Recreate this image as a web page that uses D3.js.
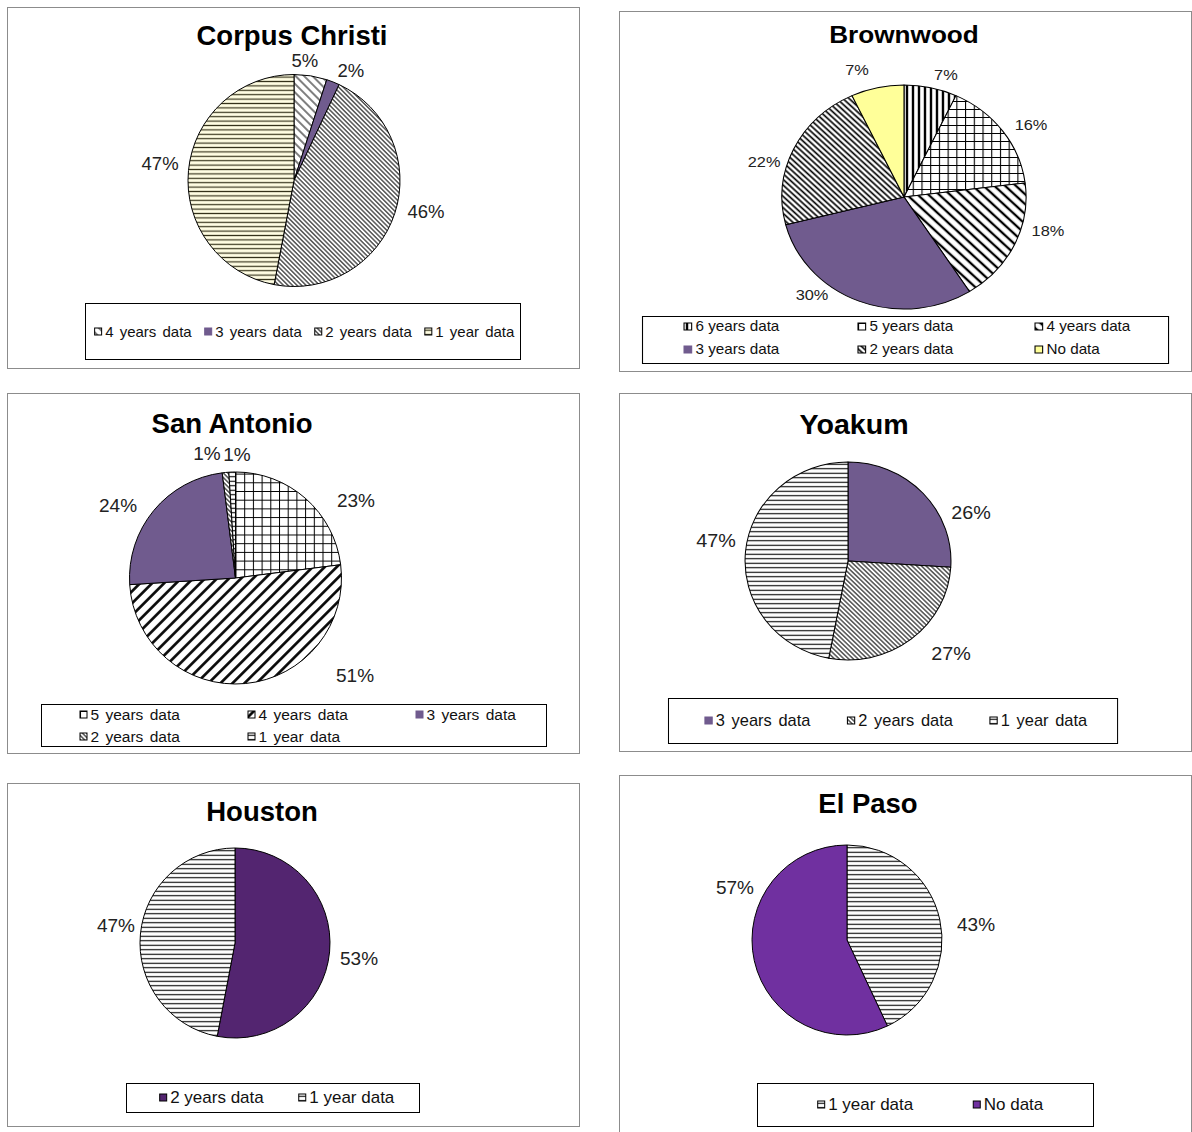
<!DOCTYPE html>
<html>
<head>
<meta charset="utf-8">
<script src="https://cdn.jsdelivr.net/npm/d3@7"></script>
<style>
  body { margin: 0; background: #fff; }
  svg { display: block; }
  text { font-family: "Liberation Sans", Arial, sans-serif; }
</style>
</head>
<body>
<svg id="chart" width="1192" height="1132"></svg>
<script>
// ---- Data: share of stations by length of record, per district ----
const ccCategories = ["4 years data", "3 years data", "2 years data", "1 year data"];
const ccValues = [5, 2, 46, 47];

const bwCategories = ["6 years data", "5 years data", "4 years data", "3 years data", "2 years data", "No data"];
const bwValues = [7, 16, 18, 30, 22, 7];

const saCategories = ["5 years data", "4 years data", "3 years data", "2 years data", "1 year data"];
const saValues = [23, 51, 24, 1, 1];

const ykCategories = ["3 years data", "2 years data", "1 year data"];
const ykValues = [26, 27, 47];

const hoCategories = ["2 years data", "1 year data"];
const hoValues = [53, 47];

const epCategories = ["1 year data", "No data"];
const epValues = [43, 57];

// ---- Fills (solid colours or pattern ids) ----
const PURPLE = "#705b8e";
const ccFills = ["url(#p-cc4)", PURPLE, "url(#p-fine)", "url(#p-cc1)"];
const bwFills = ["url(#p-vert)", "url(#p-grid)", "url(#p-wide)", PURPLE, "url(#p-dense)", "#ffff99"];
const saFills = ["url(#p-grid-sa)", "url(#p-up)", PURPLE, "url(#p-fine)", "url(#p-horiz)"];
const ykFills = [PURPLE, "url(#p-fine)", "url(#p-horiz)"];
const hoFills = ["#532570", "url(#p-horiz)"];
const epFills = ["url(#p-horiz)", "#7030a0"];

// ---- Layout of the six panels ----
const panels = [
  { title: "Corpus Christi", cats: ccCategories, vals: ccValues, fills: ccFills,
    frame: [7, 7, 572, 361], titleX: 292, titleY: 35.5, titleSize: 27.5,
    cx: 294, cy: 180.5, r: 106, sx: 1, labelSize: 18.5, gap: 8,
    nudges: [[-9, 2], [10, 5], [6, -7], [-2, -5]],
    legend: { box: [85, 303, 435, 56], size: 15, ws: 2, type: "flow", gap: 13, shift: 2, y: 332 } },
  { title: "Brownwood", cats: bwCategories, vals: bwValues, fills: bwFills,
    frame: [619, 11, 572, 360], titleX: 904, titleY: 34.5, titleSize: 24,
    cx: 904, cy: 197, r: 112, sx: 1.09, labelSize: 15, gap: 8,
    nudges: [[9.9, 2.4], [7.3, 2.9], [9.9, -20.3], [-34.7, -20.6], [-6.2, 19.3], [-14.5, -2.6]],
    legend: { box: [663.6, 316, 482.6, 47], size: 14, ws: 0, type: "grid", cols: [702.2, 861.8, 1024.2], rows: [327, 350], perRow: 3 } },
  { title: "San Antonio", cats: saCategories, vals: saValues, fills: saFills,
    frame: [7, 393, 572, 360], titleX: 232, titleY: 423.5, titleSize: 27.5,
    cx: 235.5, cy: 578, r: 106, sx: 1, labelSize: 19, gap: 8,
    nudges: [[32.5, 15.6], [107, -25], [-15, 6.7], [-16.5, -2], [5.5, 0.4]],
    legend: { box: [41, 704, 505, 42], size: 15.5, ws: 2, type: "grid", cols: [80, 248, 416], rows: [715, 737], perRow: 3 } },
  { title: "Yoakum", cats: ykCategories, vals: ykValues, fills: ykFills,
    frame: [619, 393, 572, 358], titleX: 853.8, titleY: 424.5, titleSize: 27.5,
    cx: 848, cy: 561, r: 99, sx: 1.04, labelSize: 19, gap: 8,
    nudges: [[26.4, 30.8], [21.8, 0], [-1.5, -10]],
    legend: { box: [674.9, 698, 431.8, 45], size: 15.8, ws: 2, type: "flow", gap: 35.6, shift: 3.4, y: 721 } },
  { title: "Houston", cats: hoCategories, vals: hoValues, fills: hoFills,
    frame: [7, 783, 572, 343], titleX: 262, titleY: 811, titleSize: 27.5,
    cx: 235, cy: 943, r: 95, sx: 1, labelSize: 19, gap: 8,
    nudges: [[2.6, 5.4], [2.4, -7.4]],
    legend: { box: [126, 1083, 293, 29], size: 17, ws: 0, type: "flow", gap: 35, shift: 4.5, y: 1098 } },
  { title: "El Paso", cats: epCategories, vals: epValues, fills: epFills,
    frame: [619, 775, 572, 360], titleX: 868, titleY: 803, titleSize: 27.5,
    cx: 847, cy: 940, r: 95, sx: 1, labelSize: 19, gap: 8,
    nudges: [[10, 8.6], [7, -76.6]],
    legend: { box: [757, 1083, 336, 43], size: 17, ws: 0, type: "flow", gap: 60, shift: 5.5, y: 1105 } }
];

const svg = d3.select("#chart");
const defs = svg.append("defs");

// Line hatch: horizontal line rotated by `angle` degrees
function hatch(id, spacing, width, color, bg, angle) {
  const p = defs.append("pattern")
    .attr("id", id)
    .attr("patternUnits", "userSpaceOnUse")
    .attr("width", 10).attr("height", spacing)
    .attr("patternTransform", `rotate(${angle})`);
  p.append("rect").attr("width", 10).attr("height", spacing).attr("fill", bg);
  p.append("line").attr("x1", 0).attr("x2", 10)
    .attr("y1", spacing / 2).attr("y2", spacing / 2)
    .attr("stroke", color).attr("stroke-width", width);
}
function grid(id, size, width) {
  const p = defs.append("pattern")
    .attr("id", id)
    .attr("patternUnits", "userSpaceOnUse")
    .attr("width", size).attr("height", size);
  p.append("rect").attr("width", size).attr("height", size).attr("fill", "#fff");
  p.append("path").attr("d", `M0,0.5H${size}M0.5,0V${size}`)
    .attr("stroke", "#000").attr("stroke-width", width).attr("fill", "none");
}
hatch("p-horiz", 4.5, 1.1, "#000", "#fff", 0);
hatch("p-cc1", 4.4, 1.2, "#35321a", "#fffde2", 0);
hatch("p-fine", 3.2, 1, "#000", "#fff", 45);
hatch("p-cc4", 6, 2, "#7f7f7f", "#fff", 45);
hatch("p-vert", 5.5, 2.2, "#000", "#fff", 90);
hatch("p-wide", 7, 2.2, "#000", "#fff", 45);
hatch("p-dense", 4, 1.6, "#000", "#fff", 45);
hatch("p-up", 8.5, 2.6, "#000", "#fff", -45);
grid("p-grid", 8, 1);
grid("p-grid-sa", 8.7, 1);

const pie = d3.pie().sort(null).value(d => d.value);

panels.forEach(cfg => {
  const [fx, fy, fw, fh] = cfg.frame;
  svg.append("rect")
    .attr("x", fx + 0.5).attr("y", fy + 0.5)
    .attr("width", fw).attr("height", fh)
    .attr("fill", "#fff").attr("stroke", "#8c8c8c").attr("stroke-width", 1);

  // Horizontal stretch of the panel content about the pie centre
  const g = svg.append("g")
    .attr("transform", `translate(${cfg.cx},0) scale(${cfg.sx},1) translate(${-cfg.cx},0)`);

  g.append("text")
    .attr("x", cfg.titleX).attr("y", cfg.titleY)
    .attr("text-anchor", "middle").attr("dominant-baseline", "central")
    .attr("font-size", cfg.titleSize).attr("font-weight", "bold")
    .attr("fill", "#000")
    .text(cfg.title);

  const rows = cfg.cats.map((c, i) => ({ cat: c, value: cfg.vals[i], fill: cfg.fills[i], i }));
  const arcs = pie(rows);
  const arc = d3.arc().innerRadius(0).outerRadius(cfg.r);

  const pg = g.append("g").attr("transform", `translate(${cfg.cx},${cfg.cy})`);
  pg.selectAll("path.slice").data(arcs).join("path")
    .attr("class", "slice")
    .attr("d", arc)
    .attr("fill", d => d.data.fill)
    .attr("stroke", "#000").attr("stroke-width", 1).attr("stroke-linejoin", "round");

  // Percentage labels placed just outside the rim along each slice's mid-angle
  const fs = cfg.labelSize;
  pg.selectAll("text.lbl").data(arcs).join("text")
    .attr("class", "lbl")
    .attr("text-anchor", "middle").attr("dominant-baseline", "central")
    .attr("font-size", fs).attr("fill", "#222")
    .attr("x", d => {
      const a = (d.startAngle + d.endAngle) / 2;
      const w = fs * (0.556 * String(d.data.value).length + 0.889);
      return (cfg.r + cfg.gap) * Math.sin(a) + w / 2 * Math.sin(a) + cfg.nudges[d.data.i][0];
    })
    .attr("y", d => {
      const a = (d.startAngle + d.endAngle) / 2;
      return -(cfg.r + cfg.gap) * Math.cos(a) - fs / 2 * Math.cos(a) + cfg.nudges[d.data.i][1];
    })
    .text(d => d.data.value + "%");

  // Legend
  const L = cfg.legend;
  g.append("rect")
    .attr("x", L.box[0] + 0.5).attr("y", L.box[1] + 0.5)
    .attr("width", L.box[2]).attr("height", L.box[3])
    .attr("fill", "#fff").attr("stroke", "#000").attr("stroke-width", 1);

  const sw = 8, sgap = 2.5;
  const items = g.append("g").selectAll("g.item").data(rows).join("g").attr("class", "item");
  items.append("rect")
    .attr("width", sw - 1).attr("height", sw - 1)
    .attr("fill", d => d.fill)
    .attr("stroke", d => d.fill === PURPLE ? PURPLE : "#000")
    .attr("stroke-width", 1);
  items.append("text")
    .attr("x", sw + sgap).attr("y", sw / 2 - 0.5)
    .attr("dominant-baseline", "central")
    .attr("font-size", L.size).attr("word-spacing", L.ws)
    .attr("fill", "#111")
    .text(d => d.cat);

  if (L.type === "flow") {
    const widths = items.nodes().map(n => sw + sgap + n.querySelector("text").getComputedTextLength());
    const total = d3.sum(widths) + L.gap * (widths.length - 1);
    let x = L.box[0] + L.box[2] / 2 - total / 2 + L.shift;
    items.attr("transform", (d, i) => {
      const t = `translate(${x},${L.y - sw / 2})`;
      x += widths[i] + L.gap;
      return t;
    });
  } else {
    items.attr("transform", (d, i) =>
      `translate(${L.cols[i % L.perRow]},${L.rows[Math.floor(i / L.perRow)] - sw / 2})`);
  }
});
</script>
</body>
</html>
